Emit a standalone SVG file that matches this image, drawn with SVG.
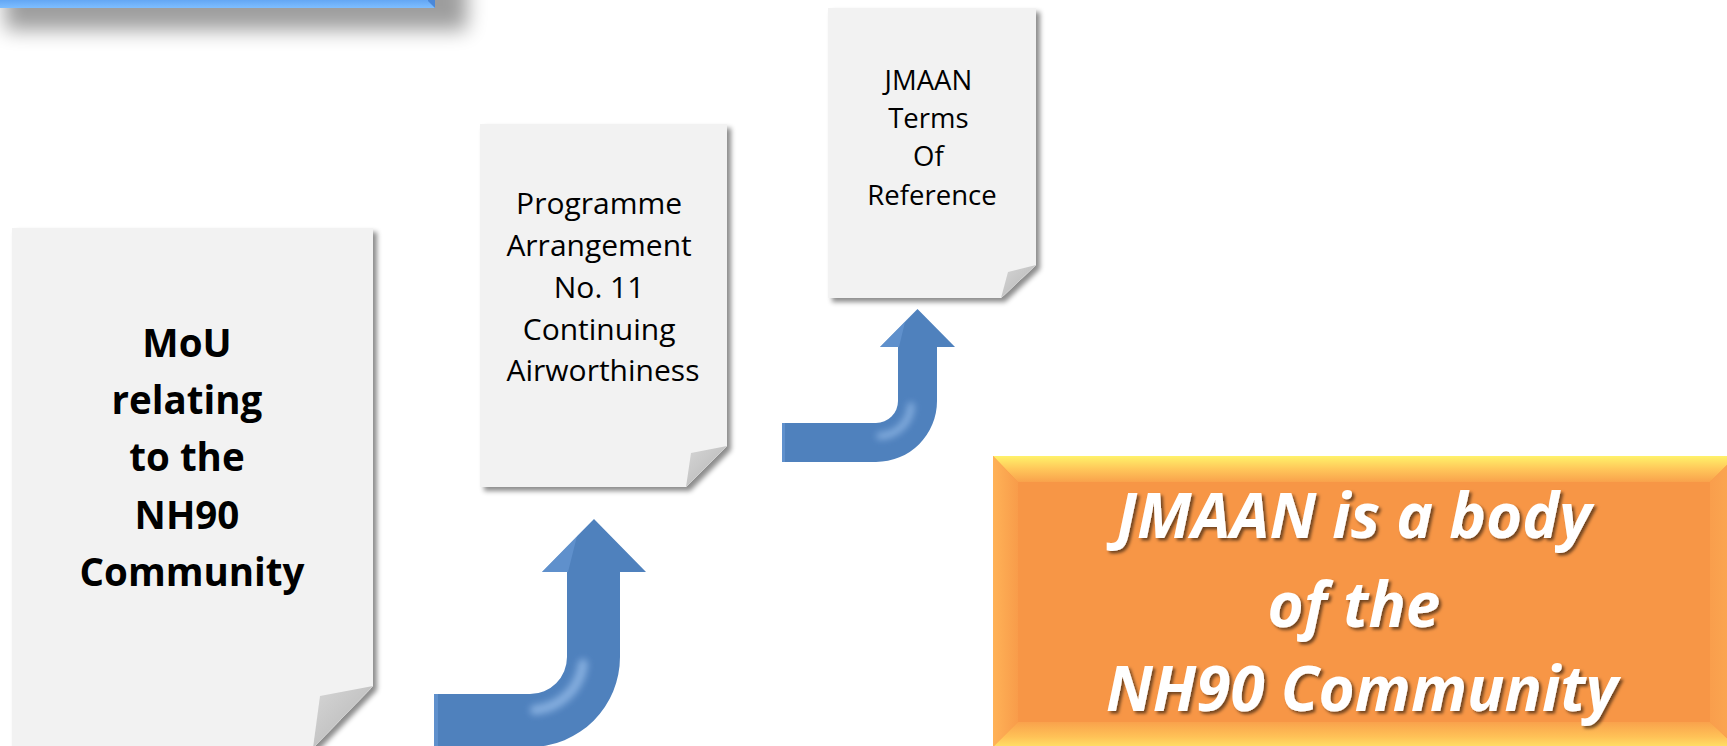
<svg xmlns="http://www.w3.org/2000/svg" width="1727" height="746" viewBox="0 0 1727 746">
<style>
.page{fill:#F2F2F2;filter:url(#docShadow)}
.flap{fill:url(#flapGrad)}
.docText{font-family:"Open Sans","Liberation Sans",sans-serif;fill:#000;text-anchor:middle}
.arrow{fill:#4F81BD}
.hl{fill:none;stroke:#A9CCF5;stroke-linecap:round;filter:url(#soft)}
.orangeText{font-family:"Open Sans","Liberation Sans",sans-serif;font-weight:bold;font-style:italic;font-size:62px;fill:#FFFFFF;text-anchor:middle;filter:url(#textShadow)}
</style>
<defs>
<filter id="docShadow" x="-10%" y="-10%" width="130%" height="130%">
<feDropShadow dx="4" dy="4" stdDeviation="2.5" flood-color="#000" flood-opacity="0.45"/>
</filter>
<filter id="bigShadow" x="-30%" y="-100%" width="160%" height="300%">
<feGaussianBlur stdDeviation="10"/>
</filter>
<filter id="soft" x="-50%" y="-50%" width="200%" height="200%">
<feGaussianBlur stdDeviation="3.5"/>
</filter>
<filter id="textShadow" x="-10%" y="-20%" width="120%" height="140%">
<feDropShadow dx="2.5" dy="2.5" stdDeviation="1.5" flood-color="#000" flood-opacity="0.55"/>
</filter>
<linearGradient id="flapGrad" x1="0" y1="0" x2="1" y2="1">
<stop offset="0" stop-color="#D6D6D6"/>
<stop offset="1" stop-color="#B4B4B4"/>
</linearGradient>
<linearGradient id="blueBox" x1="0" y1="0" x2="0" y2="1">
<stop offset="0" stop-color="#4A8BDD"/>
<stop offset="0.8" stop-color="#5EA2F2"/>
<stop offset="1" stop-color="#7EBEFF"/>
</linearGradient>
<linearGradient id="topBevel" x1="0" y1="0" x2="0" y2="1">
<stop offset="0" stop-color="#FFF26A"/>
<stop offset="0.5" stop-color="#FFC75A"/>
<stop offset="1" stop-color="#F9A24C"/>
</linearGradient>
<linearGradient id="leftBevel" x1="0" y1="0" x2="1" y2="0">
<stop offset="0" stop-color="#FFB257"/>
<stop offset="1" stop-color="#F89C4A"/>
</linearGradient>
<linearGradient id="bottomBevel" x1="0" y1="0" x2="0" y2="1">
<stop offset="0" stop-color="#F9A24C"/>
<stop offset="0.6" stop-color="#FFC257"/>
<stop offset="1" stop-color="#FFE066"/>
</linearGradient>
<linearGradient id="rightBevel" x1="0" y1="0" x2="1" y2="0">
<stop offset="0" stop-color="#F99E4C"/>
<stop offset="1" stop-color="#FBA852"/>
</linearGradient>
</defs>

<g id="top-box">
<rect x="5" y="-25" width="462" height="55" fill="#000" opacity="0.38" filter="url(#bigShadow)"/>
<rect x="-10" y="-40" width="445" height="48" fill="url(#blueBox)"/>
<polygon points="428,-40 435,-40 435,8 428,1" fill="#4B88D8"/>
</g>

<g id="doc-mou">
<polygon class="page" points="12,228 373,228 373,686 313,748 12,748"/>
<polygon class="flap" points="373,686 320,696 313,748"/>
<text class="docText" font-weight="bold" font-size="38.5">
<tspan x="192" y="357">MoU</tspan>
<tspan x="192" y="414">relating</tspan>
<tspan x="192" y="471">to the</tspan>
<tspan x="192" y="529">NH90</tspan>
<tspan x="192" y="586">Community</tspan>
</text>
</g>

<g id="doc-pa11">
<polygon class="page" points="480,124 727,124 727,446 686,487 480,487"/>
<polygon class="flap" points="727,446 691,453 686,487"/>
<text class="docText" font-size="30">
<tspan x="603" y="214">Programme</tspan>
<tspan x="603" y="256">Arrangement</tspan>
<tspan x="603" y="298">No. 11</tspan>
<tspan x="603" y="340">Continuing</tspan>
<tspan x="603" y="381">Airworthiness</tspan>
</text>
</g>

<g id="doc-tor">
<polygon class="page" points="828,8 1036,8 1036,265 1001,298 828,298"/>
<polygon class="flap" points="1036,265 1008,272 1001,298"/>
<text class="docText" font-size="27.5">
<tspan x="932" y="90">JMAAN</tspan>
<tspan x="932" y="128">Terms</tspan>
<tspan x="932" y="166">Of</tspan>
<tspan x="932" y="205">Reference</tspan>
</text>
</g>

<g id="connectors">
<g id="arrow-1">
<path class="arrow" d="M434,694 L530,694 A37,37 0 0 0 567,657 L567,572 L542,572 L594,519 L646,572 L620,572 L620,657 A90,90 0 0 1 530,747 L434,747 Z"/>
<path class="hl" stroke-width="10" opacity="0.6" d="M535,710 A53,53 0 0 0 583,664"/>
<polygon points="594,519 577,536 568,572 542,572" fill="#6A9BD6" opacity="0.6"/>
<rect x="434" y="694" width="4" height="53" fill="#6A9BD6" opacity="0.6"/>
</g>
<g id="arrow-2">
<path class="arrow" d="M782,423 L876,423 A22,22 0 0 0 898,401 L898,347 L880,347 L917.5,309 L955,347 L937,347 L937,401 A61,61 0 0 1 876,462 L782,462 Z"/>
<path class="hl" stroke-width="7" opacity="0.6" d="M880,436 A32,32 0 0 0 911,406"/>
<polygon points="917.5,309 905,322 899,347 880,347" fill="#6A9BD6" opacity="0.6"/>
<rect x="782" y="423" width="3" height="39" fill="#6A9BD6" opacity="0.6"/>
</g>
</g>

<g id="jmaan-body">
<rect x="993" y="456" width="743" height="291" fill="#F79646"/>
<polygon points="993,456 1736,456 1710,482 1018,482" fill="url(#topBevel)"/>
<polygon points="993,456 1018,482 1018,722 993,747" fill="url(#leftBevel)"/>
<polygon points="993,747 1018,722 1710,722 1736,747" fill="url(#bottomBevel)"/>
<polygon points="1736,456 1710,482 1710,722 1736,747" fill="url(#rightBevel)"/>
<text class="orangeText">
<tspan x="1362" y="538">JMAAN is a body</tspan>
<tspan x="1362" y="627">of the</tspan>
<tspan x="1362" y="711">NH90 Community</tspan>
</text>
</g>
</svg>
